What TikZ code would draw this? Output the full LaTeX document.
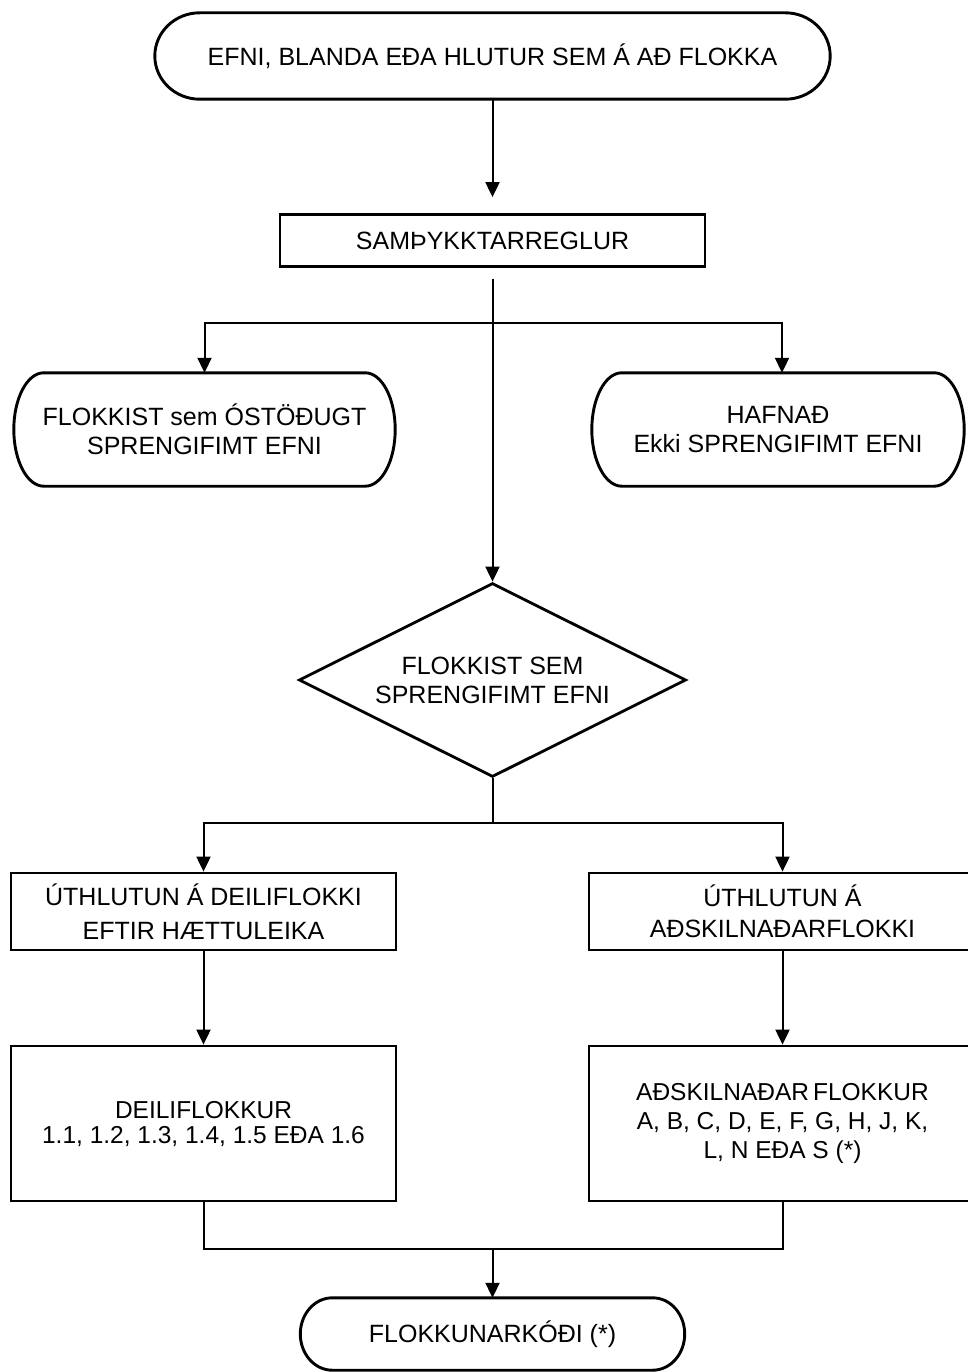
\documentclass[tikz,border=0pt]{standalone}
\usepackage{fontspec}
\setmainfont{Liberation Sans}
\usetikzlibrary{arrows.meta,shapes.geometric,calc}

% outline of a terminator: flat top and bottom, elliptic ends of width #2
\newcommand\termoutline[2]{%
  \draw[termline] let \p1=(#1.north west), \p2=(#1.south east) in
    (\x1+#2pt,\y1) -- (\x2-#2pt,\y1)
    arc[start angle=90, end angle=-90, x radius=#2pt, y radius={(\y1-(\y2))/2}]
    -- (\x1+#2pt,\y2)
    arc[start angle=270, end angle=90, x radius=#2pt, y radius={(\y1-(\y2))/2}]
    -- cycle;}

\begin{document}
\begin{tikzpicture}[x=1pt,y=-1pt,
  every node/.style={font=\fontsize{25}{29}\selectfont, align=center, inner sep=0pt},
  stepbox/.style={draw, rectangle, line width=2.8pt},
  termnode/.style={rectangle, draw=none},
  termline/.style={line width=2.9pt, line join=round},
  decision/.style={diamond, aspect=2, draw, line width=2.8pt},
  conn/.style={line width=2pt},
  arrowconn/.style={conn, -{Triangle[length=15pt,width=14pt]}}]

\useasboundingbox (0,0) rectangle (968,1372);
\fill[white] (0,0) rectangle (968,1372);

% nodes
\node[termnode, minimum width=675pt, minimum height=86pt] (start) at (492.5,56)
  {EFNI, BLANDA EÐA HLUTUR SEM Á AÐ FLOKKA};
\node[stepbox, minimum width=425pt, minimum height=52pt] (rules) at (492.5,240.5)
  {SAMÞYKKTARREGLUR};
\node[termnode, minimum width=381pt, minimum height=113pt] (unstable) at (204.5,429.5)
  {FLOKKIST sem ÓSTÖÐUGT\\SPRENGIFIMT EFNI};
\node[termnode, minimum width=372pt, minimum height=113pt] (rejected) at (778,429.5)
  {HAFNAÐ\\Ekki SPRENGIFIMT EFNI};
\node[decision, minimum width=387pt, minimum height=194pt] (explosive) at (492.5,680)
  {FLOKKIST SEM\\SPRENGIFIMT EFNI};
\node[stepbox, minimum width=385pt, minimum height=77pt, font=\fontsize{25}{34}\selectfont]
  (assigndiv) at (203.5,911.5) {ÚTHLUTUN Á DEILIFLOKKI\\EFTIR HÆTTULEIKA};
\node[stepbox, minimum width=387pt, minimum height=77pt, font=\fontsize{25}{31}\selectfont]
  (assigngrp) at (782.5,911.5) {ÚTHLUTUN Á\\AÐSKILNAÐARFLOKKI};
\node[stepbox, minimum width=385pt, minimum height=155pt, font=\fontsize{24.5}{25}\selectfont]
  (division) at (203.5,1123.5) {DEILIFLOKKUR\\1.1, 1.2, 1.3, 1.4, 1.5 EÐA 1.6};
\node[stepbox, minimum width=387pt, minimum height=155pt, font=\fontsize{24.5}{29}\selectfont]
  (group) at (782.5,1123.5) {AÐSKILNAÐAR\hspace{4pt}FLOKKUR\\A, B, C, D, E, F, G, H, J, K,\\L, N EÐA S (*)};
\node[termnode, minimum width=384pt, minimum height=72pt] (code) at (492.5,1334)
  {FLOKKUNARKÓÐI (*)};

% terminator outlines
\termoutline{start}{45}
\termoutline{unstable}{30}
\termoutline{rejected}{30}
\termoutline{code}{32}

% branch points
\coordinate (fork1) at (492.5,323);
\coordinate (fork2) at (492.5,823);
\coordinate (join) at (492.5,1249);

% connectors
\draw[arrowconn, shorten >=16pt] (start.south) -- (rules.north);
\draw[arrowconn, shorten <=11pt] (rules.south) -- (explosive.north);
\draw[arrowconn] (fork1) -| (unstable.north);
\draw[arrowconn] (fork1) -| ($(rejected.north)+(4,0)$);
\draw[conn] (explosive.south) -- (fork2);
\draw[arrowconn] (fork2) -| (assigndiv.north);
\draw[arrowconn] (fork2) -| (assigngrp.north);
\draw[arrowconn] (assigndiv.south) -- (division.north);
\draw[arrowconn] (assigngrp.south) -- (group.north);
\draw[conn] (division.south) |- (join) -| (group.south);
\draw[arrowconn] (join) -- (code.north);

\end{tikzpicture}
\end{document}
